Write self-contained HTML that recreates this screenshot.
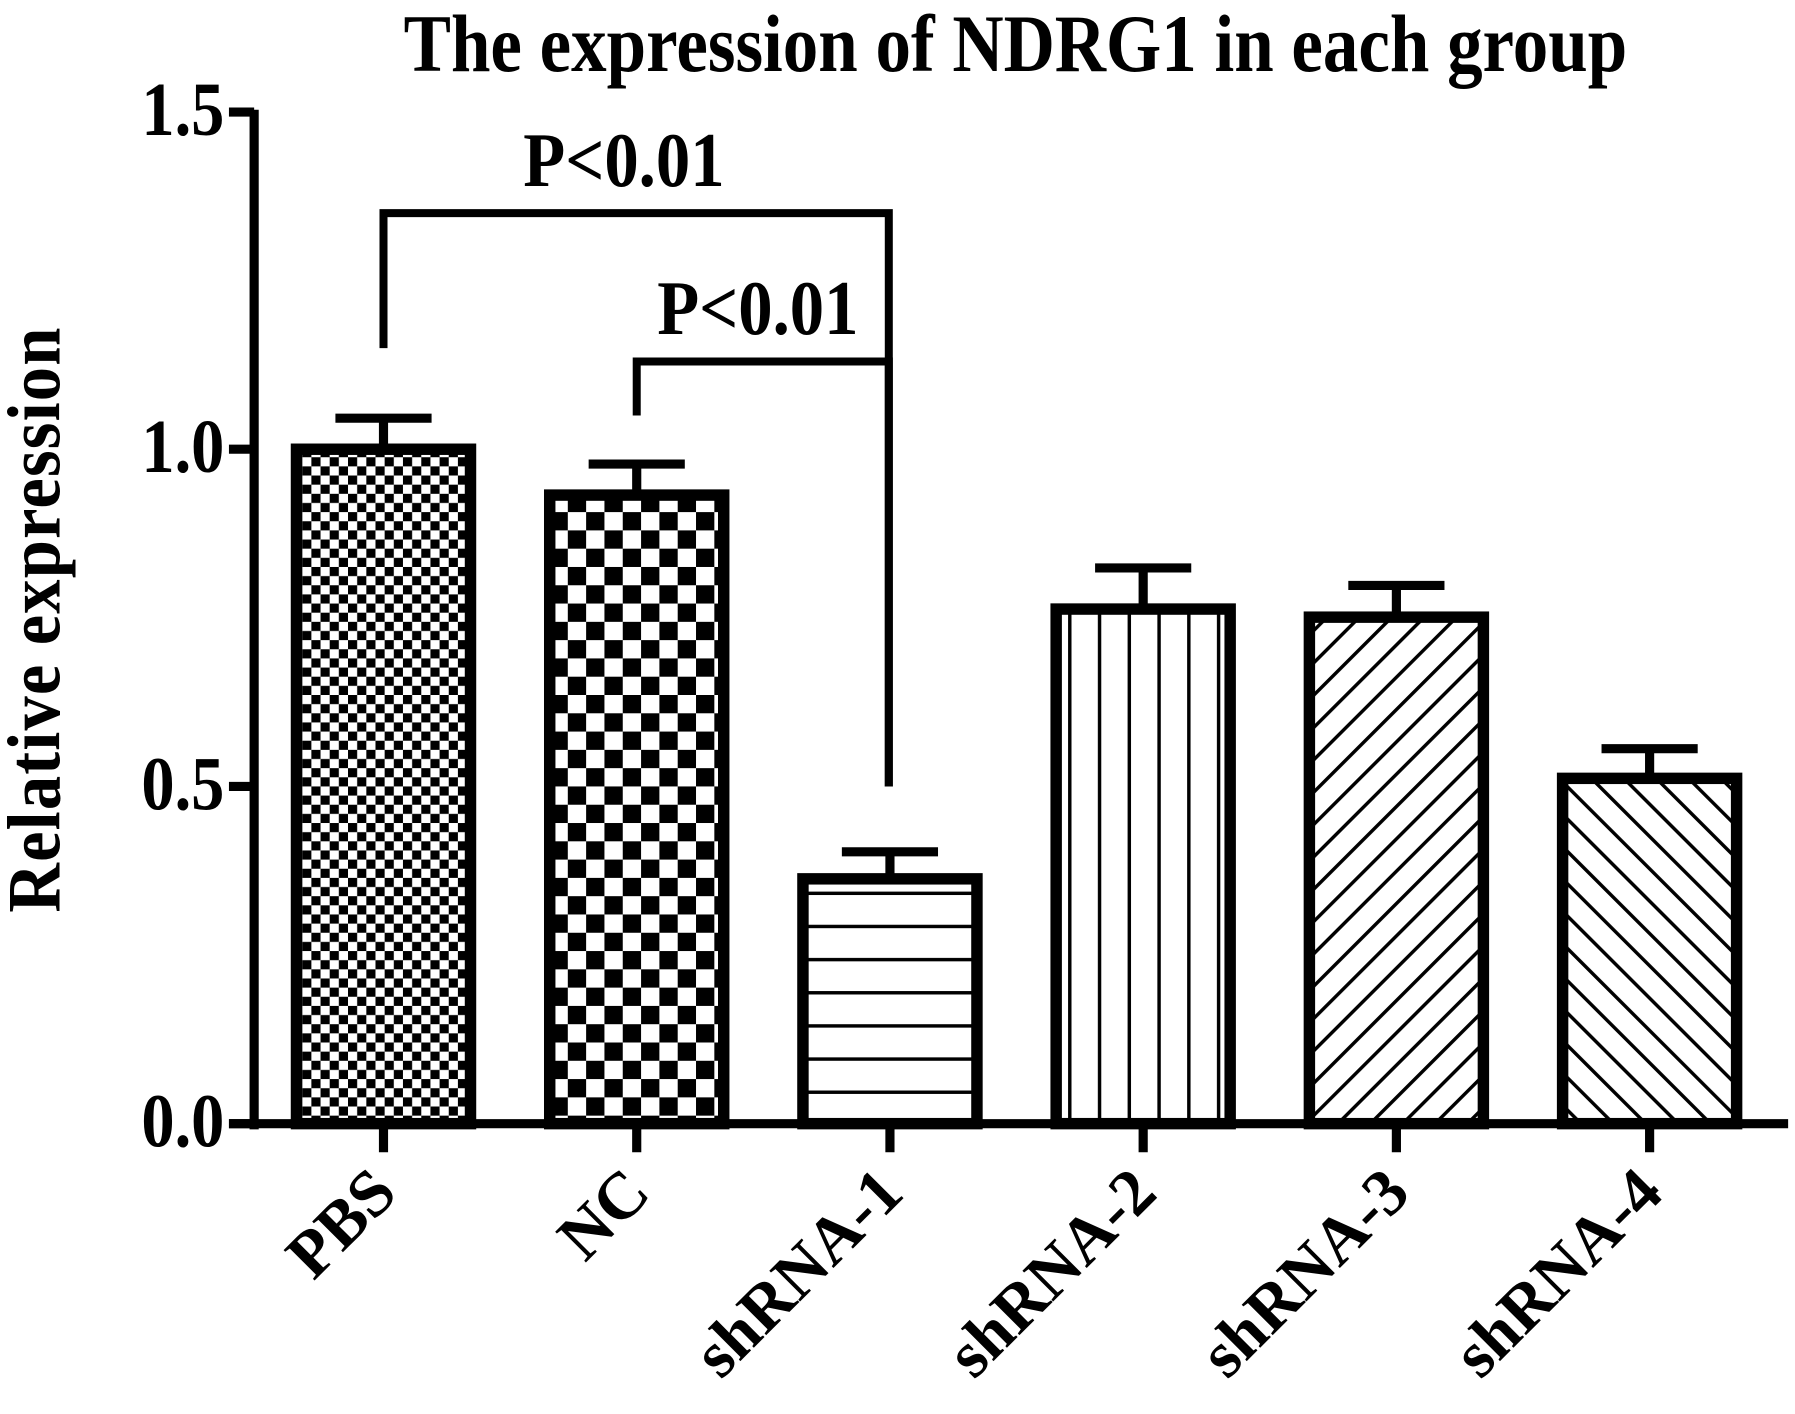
<!DOCTYPE html>
<html><head><meta charset="utf-8"><style>
html,body{margin:0;padding:0;background:#fff;}
svg{display:block;}
text{font-family:"Liberation Serif",serif;font-weight:bold;fill:#000;}
</style></head><body>
<svg id="chart" width="1795" height="1414" viewBox="0 0 1568 1237" preserveAspectRatio="none" xmlns="http://www.w3.org/2000/svg">
<defs>
<pattern id="p0" width="16" height="16" patternUnits="userSpaceOnUse"><rect width="16" height="16" fill="#fff"/><rect width="8" height="8" fill="#000"/><rect x="8" y="8" width="8" height="8" fill="#000"/></pattern>
<pattern id="p1" width="32" height="32" patternUnits="userSpaceOnUse"><rect width="32" height="32" fill="#fff"/><rect width="16" height="16" fill="#000"/><rect x="16" y="16" width="16" height="16" fill="#000"/></pattern>
<pattern id="p2" width="20" height="29" patternUnits="userSpaceOnUse"><rect width="20" height="29" fill="#fff"/><rect y="26" width="20" height="3" fill="#000"/></pattern>
<pattern id="p3" width="26" height="20" patternUnits="userSpaceOnUse"><rect width="26" height="20" fill="#fff"/><rect x="23" width="3" height="20" fill="#000"/></pattern>
<pattern id="p4" width="20" height="20" patternUnits="userSpaceOnUse" patternTransform="rotate(45)"><rect width="20" height="20" fill="#fff"/><rect width="3" height="20" fill="#000"/></pattern>
<pattern id="p5" width="20" height="20" patternUnits="userSpaceOnUse" patternTransform="rotate(-45)"><rect width="20" height="20" fill="#fff"/><rect width="3" height="20" fill="#000"/></pattern>
</defs>
<text transform="translate(887,62) scale(1,1.15)" font-size="62" text-anchor="middle">The expression of NDRG1 in each group</text>
<text transform="translate(52,542) rotate(-90) scale(1,1.1)" font-size="60" text-anchor="middle" letter-spacing="1">Relative expression</text>
<g id="axes"></g>
<g id="bars"></g>
<g id="sig"></g>
</svg>
<script>
const categories = ["PBS","NC","shRNA-1","shRNA-2","shRNA-3","shRNA-4"];
const means = [1.0, 0.932, 0.363, 0.763, 0.751, 0.512];
const errors = [0.046, 0.046, 0.040, 0.061, 0.047, 0.044];
const yTicks = [0.0, 0.5, 1.0, 1.5];
const yTickLabels = ["0.0","0.5","1.0","1.5"];
const sigLabels = ["P<0.01","P<0.01"];
const sigPairs = [[0,2],[1,2]];

const NS = "http://www.w3.org/2000/svg";
const y = v => 983 - v * 590;
const x = i => 335 + i * 221.2;
const barW = 152;
function mk(tag, attrs, parent){const e=document.createElementNS(NS,tag);for(const k in attrs)e.setAttribute(k,attrs[k]);parent.appendChild(e);return e;}
const axes=document.getElementById('axes'), bars=document.getElementById('bars'), sig=document.getElementById('sig');

let yl = mk('line',{x1:222,y1:y(1.5)-2,x2:222,y2:988,stroke:'#000','stroke-width':8},axes);


let xl = mk('line',{x1:200,y1:983,x2:1562,y2:983,stroke:'#000','stroke-width':8},axes);


yTicks.forEach((t,i)=>{
  let tk=mk('line',{x1:200,y1:y(t),x2:222,y2:y(t),stroke:'#000','stroke-width':8},axes);
  
  
  let tl=mk('text',{transform:`translate(196,${y(t)+20}) scale(1,1.15)`,'font-size':58,'text-anchor':'end'},axes);
  tl.textContent=yTickLabels[i];
  
  
});
categories.forEach((c,i)=>{
  const cx=x(i);
  let tk=mk('line',{x1:cx,y1:983,x2:cx,y2:1008,stroke:'#000','stroke-width':8},axes);
  
  
  let tl=mk('text',{transform:`translate(${cx+14},${1046}) rotate(-45)`,'font-size':58,'text-anchor':'end'},axes);
  tl.textContent=c;
  
  
  const top=y(means[i]+errors[i]);
  let ev=mk('line',{x1:cx,y1:y(means[i]),x2:cx,y2:top,stroke:'#000','stroke-width':8},bars);
  
  
  let ec=mk('line',{x1:cx-42,y1:top,x2:cx+42,y2:top,stroke:'#000','stroke-width':8},bars);
  
  
  let b=mk('rect',{x:cx-barW/2,y:y(means[i]),width:barW,height:983-y(means[i]),fill:`url(#p${i})`,stroke:'#000','stroke-width':10},bars);
  
  
});
const brTops=[y(1.35),y(1.13)];
const leftBottoms=[y(1.15),y(1.05)];
const rightBottoms=[y(0.5),y(0.5)];
const labelX=[545,662];
sigPairs.forEach((p,k)=>{
  const x1=x(p[0]), x2=x(p[1])-1;
  let pl=mk('polyline',{points:`${x1},${leftBottoms[k]} ${x1},${brTops[k]} ${x2},${brTops[k]} ${x2},${rightBottoms[k]}`,fill:'none',stroke:'#000','stroke-width':7},sig);
  
  
  let t=mk('text',{transform:`translate(${labelX[k]},${brTops[k]-24}) scale(1,1.12)`,'font-size':60,'text-anchor':'middle'},sig);
  t.textContent=sigLabels[k];
  
  
});
</script>
</body></html>
